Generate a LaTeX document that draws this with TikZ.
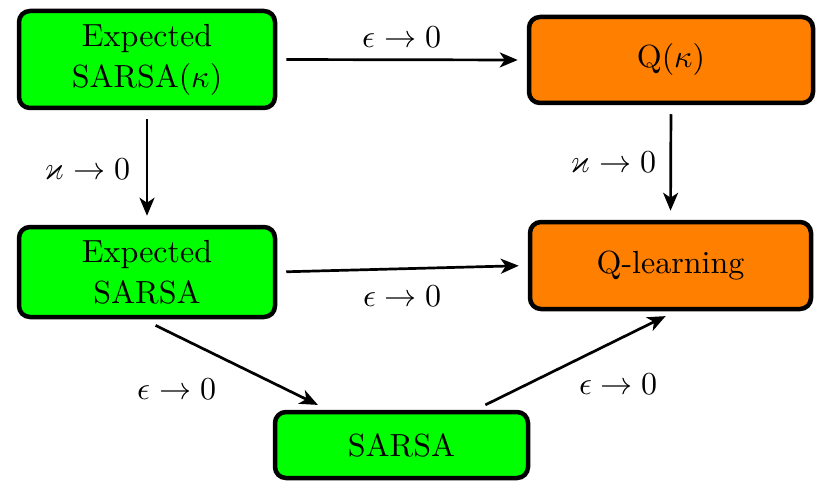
\documentclass[tikz,border=0pt]{standalone}
\usepackage{unicode-math}
\setmainfont{lmroman10-regular}[Extension=.otf, ItalicFont=lmroman10-italic,
  BoldFont=lmroman10-bold]
\setmathfont{Latin Modern Math}
\usetikzlibrary{arrows.meta,calc}
\begin{document}
\begin{tikzpicture}[x=1pt,y=-1pt,
  box/.style={draw=black, line width=4.5pt, rounded corners=11pt, align=center,
    inner sep=0pt, font=\fontsize{32}{41}\selectfont},
  greenbox/.style={box, fill=green},
  orangebox/.style={box, fill=orange},
  conn/.style={line width=2.7pt, -{Stealth[length=18pt,width=15pt,inset=5pt]},
    shorten <=9pt, shorten >=9pt},
  lbl/.style={inner sep=0pt, font=\fontsize{32}{40}\selectfont}]
\useasboundingbox (0,0) rectangle (821,481);

% method boxes
\node[greenbox, minimum width=256pt, minimum height=97pt] (A) at (147,59.5) {Expected\\SARSA($\kappa$)};
\node[orangebox, minimum width=284pt, minimum height=86pt] (B) at (671,60) {Q($\kappa$)};
\node[greenbox, minimum width=256pt, minimum height=90pt] (C) at (147,272) {Expected\\SARSA};
\node[orangebox, minimum width=281pt, minimum height=87pt] (D) at (670.5,265.5) {Q-learning};
\node[greenbox, minimum width=253pt, minimum height=66pt] (E) at (401.5,445) {SARSA};

% end points of the slanted connectors
\coordinate (ce1) at ($(C.south)+(-4,0)$);
\coordinate (ce2) at ($(E.north west)+(55,0)$);
\coordinate (ed1) at ($(E.north)+(74,0)$);
\coordinate (ed2) at ($(D.south)+(5,0)$);

% limits
\draw[conn] (A.east) -- node[lbl, yshift=23pt] {$\epsilon\rightarrow0$} (B.west);
\draw[conn] (A.south) -- node[lbl, xshift=-59.5pt, yshift=-1.5pt] {$\varkappa\rightarrow0$} (C.north);
\draw[conn] (B.south) -- node[lbl, xshift=-57.5pt] {$\varkappa\rightarrow0$} (D.north);
\draw[conn] (C.east) -- node[lbl, yshift=-27pt] {$\epsilon\rightarrow0$} (D.west);
\draw[conn, shorten <=14pt, shorten >=11pt] (ce1) -- node[lbl, xshift=-58pt, yshift=-24.5pt] {$\epsilon\rightarrow0$} (ce2);
\draw[conn, shorten <=11pt, shorten >=11pt] (ed1) -- node[lbl, xshift=43pt, yshift=-23.5pt] {$\epsilon\rightarrow0$} (ed2);
\end{tikzpicture}
\end{document}
